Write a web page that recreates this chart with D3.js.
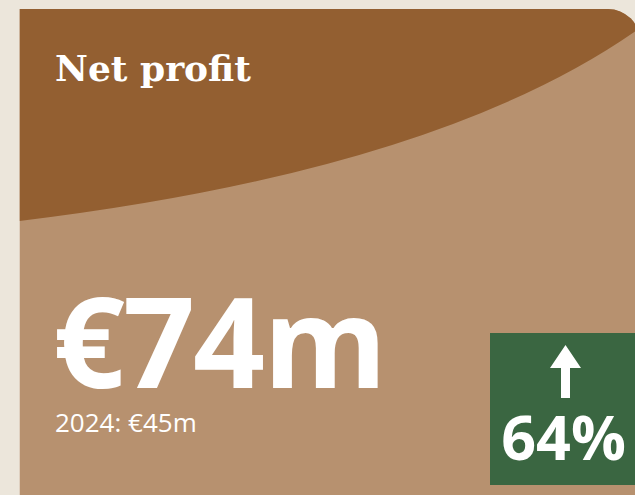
<!DOCTYPE html>
<html>
<head>
<meta charset="utf-8">
<script src="https://cdn.jsdelivr.net/npm/d3@7"></script>
<style>
  html, body { margin: 0; padding: 0; background: #ece6db; overflow: hidden; }
  svg { display: block; }
</style>
</head>
<body>
<script>

	// values shown on the card
	var title = ["Net profit"];
	var years = [2024, 2025];
	var profit = [45, 74];   // € millions

	var width = 635;
	var height = 495;

	var colors = {bg: "#ece6db", dark: "#935f31", light: "#b7916f", green: "#3a6641"};

	var svg = d3.select( "body" )
	    .append( "svg" )
	    .attr( "width", width )
	    .attr( "height", height );

	svg.append("rect")
	    .attr("width", width).attr("height", height)
	    .attr("fill", colors.bg);

	// card with only the top right corner rounded
	var cx0 = 19.5, cy0 = 9, cx1 = 640, r = 32;
	var card = d3.path();
	card.moveTo(cx0, cy0);
	card.lineTo(cx1 - r, cy0);
	card.arcTo(cx1, cy0, cx1, cy0 + r, r);
	card.lineTo(cx1, height + 10);
	card.lineTo(cx0, height + 10);
	card.closePath();

	svg.append("clipPath").attr("id", "cardclip")
	    .append("path").attr("d", card.toString());

	var g = svg.append("g").attr("clip-path", "url(#cardclip)");

	g.append("path")
	    .attr("d", card.toString())
	    .attr("fill", colors.light);

	// dark swoosh at the top
	var band = d3.path();
	band.moveTo(cx0, cy0);
	band.lineTo(cx1 + 5, cy0);
	band.lineTo(cx1 + 5, 26);
	band.lineTo(640, 28);
	band.quadraticCurveTo(440, 170, cx0, 221);
	band.closePath();

	g.append("path")
	    .attr("d", band.toString())
	    .attr("fill", colors.dark);

	g.append("text")
	    .attr("x", 55).attr("y", 81)
	    .attr("font-family", "DejaVu Serif, serif")
	    .attr("font-weight", "bold")
	    .attr("font-size", 36)
	    .attr("fill", "white")
	    .text(title[0]);

	var fmt = function(v){ return "€" + v + "m"; };

	g.append("text")
	    .attr("x", 53).attr("y", 388)
	    .attr("font-family", "Open Sans, sans-serif")
	    .attr("font-weight", "bold")
	    .attr("font-size", 126)
	    .attr("letter-spacing", -2)
	    .attr("fill", "white")
	    .text(fmt(profit[1]));

	g.append("text")
	    .attr("x", 55).attr("y", 432)
	    .attr("font-family", "Open Sans, sans-serif")
	    .attr("font-size", 26)
	    .attr("fill", "white")
	    .text(years[0] + ": " + fmt(profit[0]));

	// change badge
	var change = (profit[1] - profit[0]) / profit[0];

	var badge = g.append("g").attr("transform", "translate(490,333)");
	badge.append("rect")
	    .attr("width", 150).attr("height", 152)
	    .attr("fill", colors.green);

	var ax = 75.5;
	var arrow = d3.line()([
	    [ax, 12], [ax + 15.5, 35], [ax + 4.5, 35], [ax + 4.5, 65],
	    [ax - 4.5, 65], [ax - 4.5, 35], [ax - 15.5, 35]
	]);
	badge.append("path")
	    .attr("d", arrow + "Z")
	    .attr("fill", "white");

	badge.append("text")
	    .attr("x", ax - 2).attr("y", 127)
	    .attr("text-anchor", "middle")
	    .attr("font-family", "Open Sans, sans-serif")
	    .attr("font-weight", "bold")
	    .attr("font-size", 61)
	    .attr("fill", "white")
	    .text(d3.format(".0%")(change));

</script>
</body>
</html>
